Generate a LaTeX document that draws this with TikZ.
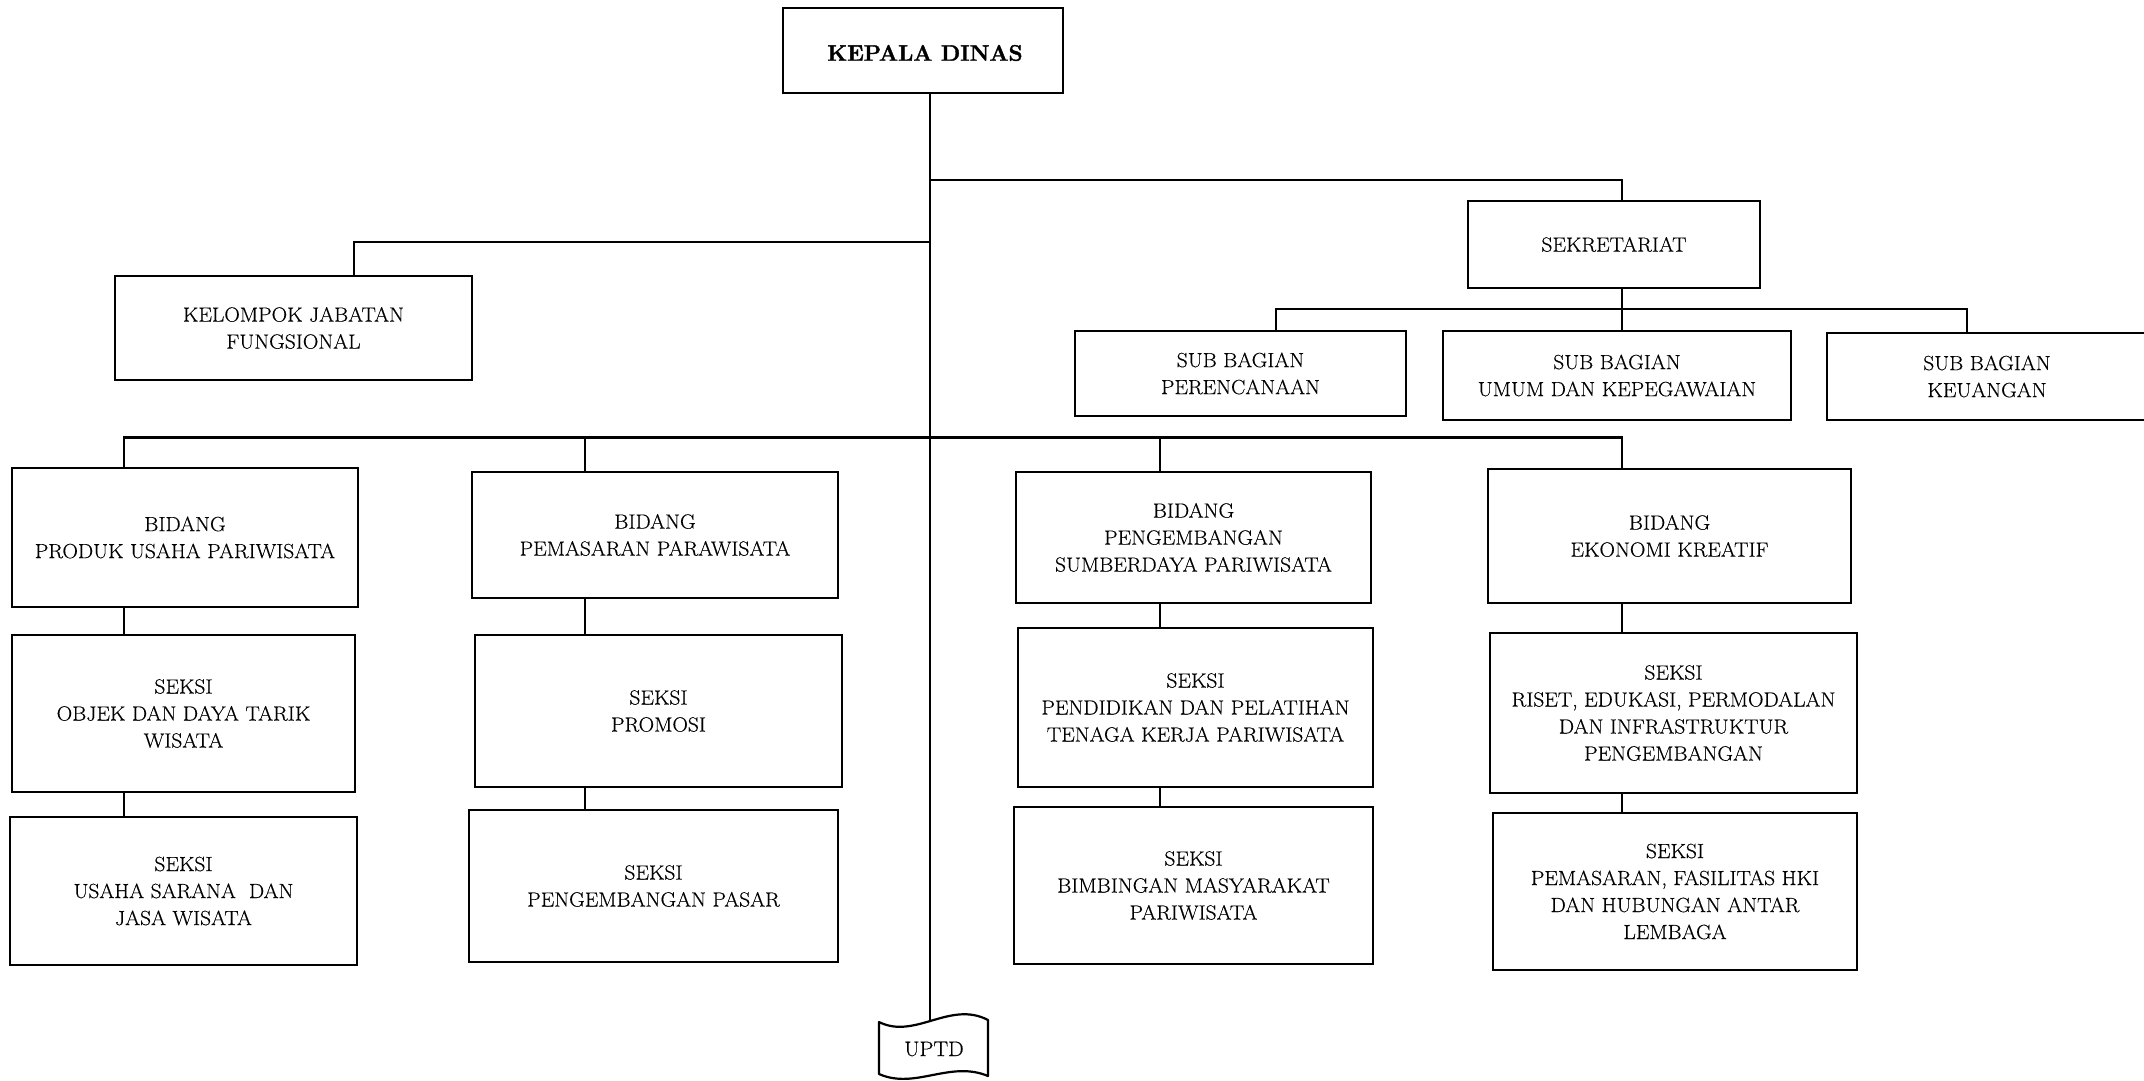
\documentclass[tikz,border=0pt]{standalone}
\usepackage{fontspec}
\setmainfont{Latin Modern Roman}[FakeStretch=1.05, FakeBold=0.35]
\newfontfamily\headfont{Latin Modern Roman}[FakeBold=1.6]
\begin{document}
\begin{tikzpicture}[x=1pt,y=-1pt]
\tikzset{
  orgbox/.style={draw, line width=2.5pt, align=center, inner sep=0pt,
                 font=\fontsize{20.5}{27}\selectfont},
  link/.style={line width=2.3pt},
  titletext/.style={font=\headfont\fontsize{22.5}{26}\selectfont\bfseries},
}
% box given by left, right, top, bottom edges
\newcommand{\orgunit}[6]{%
  \node[orgbox, minimum width={#3-#2}, minimum height={#5-#4}]
    (#1) at ({(#2+#3)/2},{(#4+#5)/2}) {#6};}

\useasboundingbox (0,0) rectangle (2144,1080);

% column positions of the vertical connectors
\coordinate (c1) at (124,0);
\coordinate (c2) at (585,0);
\coordinate (c3) at (1160,0);
\coordinate (c4) at (1622,0);
\coordinate (cj) at (354,0);
\coordinate (cp) at (1276,0);
\coordinate (ck) at (1967,0);
\coordinate (secbar) at (0,180);
\coordinate (kjbar) at (0,242);
\coordinate (subbar) at (0,309);
\coordinate (bidbar) at (0,437.5);
\coordinate (uptdtop) at (930,1020);

% head
\node[draw, line width=2.5pt, minimum width=280, minimum height=85, inner sep=0pt]
  (kd) at (923,50.5) {};
\node[titletext] (kdtext) at (925,53) {KEPALA DINAS};

% staff units
\orgunit{sek}{1468}{1760}{201}{288}{SEKRETARIAT}
\orgunit{kj}{115}{472}{276}{380}{KELOMPOK JABATAN\\FUNGSIONAL}
\orgunit{sbp}{1075}{1406}{331}{416}{SUB BAGIAN\\PERENCANAAN}
\orgunit{sbu}{1443}{1791}{331}{420}{SUB BAGIAN\\UMUM DAN KEPEGAWAIAN}
\orgunit{sbk}{1827}{2147}{333}{420}{SUB BAGIAN\\KEUANGAN}

% divisions
\orgunit{b1}{12}{358}{468}{607}{BIDANG\\PRODUK USAHA PARIWISATA}
\orgunit{b2}{472}{838}{472}{598}{BIDANG\\PEMASARAN PARAWISATA}
\orgunit{b3}{1016}{1371}{472}{603}{BIDANG\\PENGEMBANGAN\\SUMBERDAYA PARIWISATA}
\orgunit{b4}{1488}{1851}{469}{603}{BIDANG\\EKONOMI KREATIF}

% sections
\orgunit{s1a}{12}{355}{635}{792}{SEKSI\\OBJEK DAN DAYA TARIK\\WISATA}
\orgunit{s1b}{10}{357}{817}{965}{SEKSI\\USAHA SARANA\ \ DAN\\JASA WISATA}
\orgunit{s2a}{475}{842}{635}{787}{SEKSI\\PROMOSI}
\orgunit{s2b}{469}{838}{810}{962}{SEKSI\\PENGEMBANGAN PASAR}
\orgunit{s3a}{1018}{1373}{628}{787}{SEKSI\\PENDIDIKAN DAN PELATIHAN\\TENAGA KERJA PARIWISATA}
\orgunit{s3b}{1014}{1373}{807}{964}{SEKSI\\BIMBINGAN MASYARAKAT\\PARIWISATA}
\orgunit{s4a}{1490}{1857}{633}{793}{SEKSI\\RISET, EDUKASI, PERMODALAN\\DAN INFRASTRUKTUR\\PENGEMBANGAN}
\orgunit{s4b}{1493}{1857}{813}{970}{SEKSI\\PEMASARAN, FASILITAS HKI\\DAN HUBUNGAN ANTAR\\LEMBAGA}

% UPTD banner
\draw[line width=2.2pt, line join=round]
  (879,1022) .. controls (915,1040) and (950,1000) .. (988,1020)
  -- (988,1076) .. controls (950,1060) and (915,1090) .. (879,1074) -- cycle;
\node[font=\fontsize{21}{26}\selectfont] (uptd) at (934,1049) {UPTD};

% trunk
\draw[link] (uptdtop |- kd.south) -- (uptdtop);
% secretariat branch
\draw[link] (uptdtop |- secbar) -| (c4 |- sek.north);
% functional group branch
\draw[link] (uptdtop |- kjbar) -| (cj |- kj.north);
% sub-sections of the secretariat
\draw[link] (c4 |- sek.south) -- (c4 |- sbu.north);
\draw[link] (cp |- sbp.north) -- (cp |- subbar) -- (ck |- subbar) -- (ck |- sbk.north);
% divisions bar
\draw[link] (c1 |- b1.north) -- (c1 |- bidbar) -- (c4 |- bidbar) -- (c4 |- b4.north);
\draw[link] (c2 |- bidbar) -- (c2 |- b2.north);
\draw[link] (c3 |- bidbar) -- (c3 |- b3.north);
% sections under each division
\draw[link] (c1 |- b1.south) -- (c1 |- s1a.north);
\draw[link] (c1 |- s1a.south) -- (c1 |- s1b.north);
\draw[link] (c2 |- b2.south) -- (c2 |- s2a.north);
\draw[link] (c2 |- s2a.south) -- (c2 |- s2b.north);
\draw[link] (c3 |- b3.south) -- (c3 |- s3a.north);
\draw[link] (c3 |- s3a.south) -- (c3 |- s3b.north);
\draw[link] (c4 |- b4.south) -- (c4 |- s4a.north);
\draw[link] (c4 |- s4a.south) -- (c4 |- s4b.north);
\end{tikzpicture}
\end{document}
